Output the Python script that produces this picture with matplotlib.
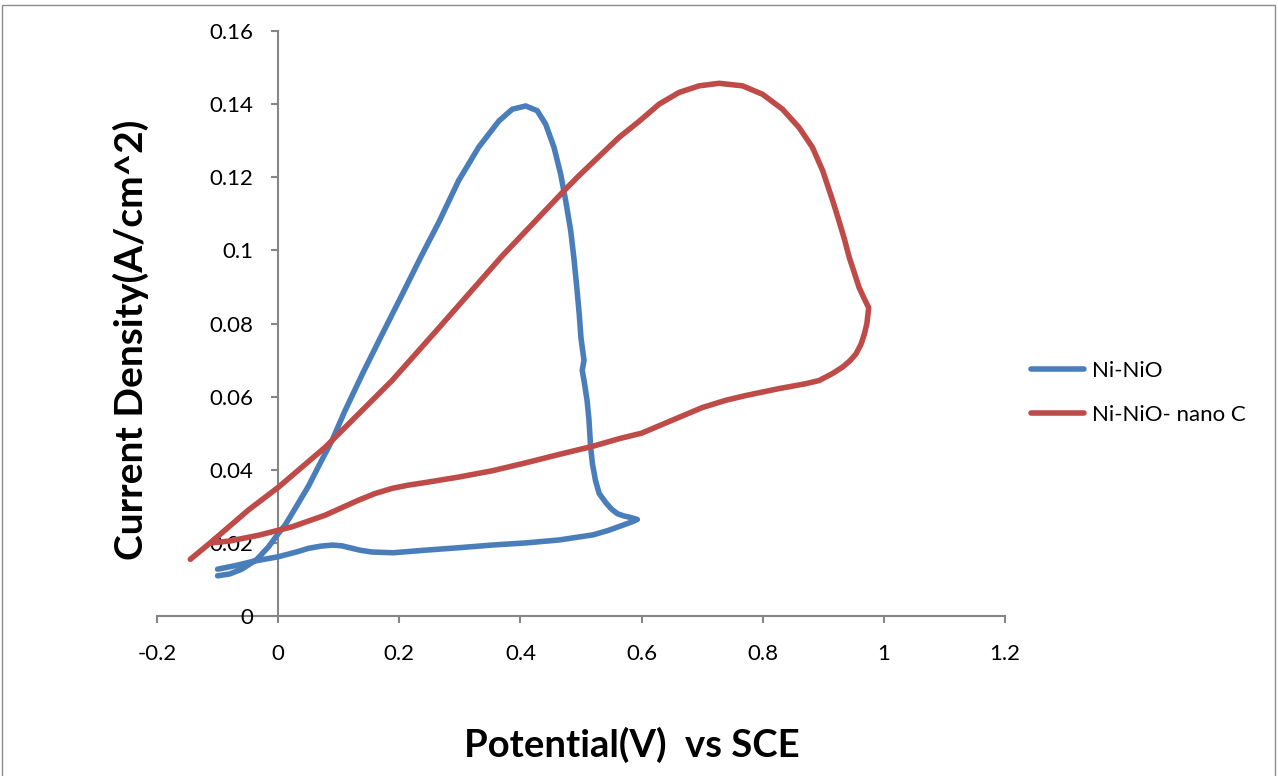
import matplotlib
matplotlib.use("Agg")
import matplotlib.pyplot as plt
from matplotlib.patches import Rectangle

plt.rcParams['font.family'] = ['Lato', 'DejaVu Sans']

# Cyclic voltammogram of Ni-NiO electrode (potential V vs SCE, current density A/cm^2)
ni_nio_potential = [
    -0.100, -0.070, -0.040, 0.000, 0.030, 0.050, 0.070, 0.090, 0.105, 0.120,
    0.135, 0.155, 0.190, 0.243, 0.300, 0.353, 0.410, 0.464, 0.520, 0.545,
    0.565, 0.585, 0.593, 0.583, 0.570, 0.560, 0.550, 0.541, 0.530, 0.524,
    0.519, 0.516, 0.513, 0.510, 0.505, 0.502, 0.505, 0.500, 0.497, 0.493,
    0.4884, 0.483, 0.4747, 0.4664, 0.4554, 0.4417, 0.4278, 0.4086, 0.3865, 0.3645,
    0.331, 0.298, 0.2653, 0.235, 0.205, 0.170, 0.140, 0.110, 0.089, 0.070,
    0.050, 0.023, 0.012, 0.001, -0.016, -0.035, -0.060, -0.080, -0.100,
]
ni_nio_current = [
    0.0128, 0.0138, 0.0150, 0.0162, 0.0175, 0.0185, 0.0191, 0.0194, 0.0192, 0.0186,
    0.0180, 0.0175, 0.0173, 0.0180, 0.0187, 0.0194, 0.0200, 0.0208, 0.0222, 0.0234,
    0.0246, 0.0258, 0.0264, 0.0269, 0.0274, 0.0280, 0.0293, 0.0310, 0.0335, 0.0370,
    0.0415, 0.0460, 0.0540, 0.0590, 0.0644, 0.0672, 0.0699, 0.0760, 0.0827, 0.0900,
    0.0977, 0.1054, 0.1136, 0.1209, 0.1282, 0.1345, 0.1382, 0.1395, 0.1386, 0.1354,
    0.1282, 0.1191, 0.1077, 0.0980, 0.0880, 0.0765, 0.0665, 0.0560, 0.0480, 0.0420,
    0.0355, 0.0280, 0.0250, 0.0227, 0.0189, 0.0155, 0.0128, 0.0115, 0.0110,
]

# Cyclic voltammogram of Ni-NiO with nano carbon
ni_nio_c_potential = [
    -0.145, -0.110, -0.049, 0.001, 0.078, 0.188, 0.260, 0.370, 0.472, 0.497,
    0.5628, 0.5967, 0.629, 0.662, 0.695, 0.728, 0.7666, 0.7997, 0.8327, 0.860,
    0.882, 0.899, 0.9155, 0.926, 0.935, 0.943, 0.951, 0.959, 0.967, 0.975,
    0.972, 0.968, 0.962, 0.954, 0.944, 0.932, 0.915, 0.893, 0.870, 0.827,
    0.772, 0.739, 0.700, 0.650, 0.600, 0.563, 0.519, 0.464, 0.409, 0.353,
    0.298, 0.243, 0.215, 0.188, 0.160, 0.133, 0.078, 0.023, -0.032, -0.080,
    -0.110,
]
ni_nio_c_current = [
    0.0155, 0.0203, 0.0290, 0.0353, 0.0462, 0.0644, 0.0778, 0.0985, 0.1163, 0.1205,
    0.1309, 0.1354, 0.1400, 0.1432, 0.1450, 0.1457, 0.1450, 0.1427, 0.1386, 0.1336,
    0.1282, 0.1218, 0.1136, 0.1080, 0.1030, 0.0980, 0.0940, 0.0899, 0.0870, 0.0843,
    0.0800, 0.0772, 0.0742, 0.0717, 0.0698, 0.0681, 0.0663, 0.0644, 0.0635, 0.0622,
    0.0603, 0.0590, 0.0570, 0.0535, 0.0500, 0.0485, 0.0464, 0.0442, 0.0419, 0.0397,
    0.0380, 0.0365, 0.0358, 0.0349, 0.0335, 0.0317, 0.0276, 0.0244, 0.0221, 0.0205,
    0.0200,
]

series_labels = ["Ni-NiO", "Ni-NiO- nano C"]
series_colors = ["#4A7EBB", "#BE4B48"]

x_ticks = [-0.2, 0, 0.2, 0.4, 0.6, 0.8, 1, 1.2]
x_tick_labels = ["-0.2", "0", "0.2", "0.4", "0.6", "0.8", "1", "1.2"]
y_ticks = [0, 0.02, 0.04, 0.06, 0.08, 0.1, 0.12, 0.14, 0.16]
y_tick_labels = ["0", "0.02", "0.04", "0.06", "0.08", "0.1", "0.12", "0.14", "0.16"]

W, H = 1278, 776
fig = plt.figure(figsize=(W / 100, H / 100), dpi=100)

# chart border
fig.patches.append(Rectangle((2 / W, -0.05), (W - 5) / W, 1.05 - 5 / H,
                             transform=fig.transFigure, fill=False,
                             edgecolor="#8c8c8c", linewidth=1.0))

ax = fig.add_axes([157 / W, (H - 616) / H, 848 / W, 585 / H])
ax.set_xlim(-0.2, 1.2)
ax.set_ylim(0, 0.16)

for xs, ys, lab, col in zip([ni_nio_potential, ni_nio_c_potential],
                            [ni_nio_current, ni_nio_c_current],
                            series_labels, series_colors):
    ax.plot(xs, ys, color=col, lw=4.0, label=lab,
            solid_capstyle="round", solid_joinstyle="round")

axis_gray = "#868686"
for side in ["top", "right"]:
    ax.spines[side].set_visible(False)
ax.spines["left"].set_position(("data", 0))
ax.spines["bottom"].set_position(("data", 0))
for side in ["left", "bottom"]:
    ax.spines[side].set_color(axis_gray)
    ax.spines[side].set_linewidth(1.5)
    ax.spines[side].set_zorder(0.5)

ax.set_xticks(x_ticks)
ax.set_xticklabels(x_tick_labels)
ax.set_yticks(y_ticks)
ax.set_yticklabels(y_tick_labels)
ax.tick_params(axis="both", direction="out", length=5, width=1.5,
               color=axis_gray, labelsize=16, labelcolor="black")
ax.tick_params(axis="y", pad=13)
ax.tick_params(axis="x", pad=15)

fig.text(131 / W, 1 - 340 / H, "Current Density(A/cm^2)", rotation=90,
         ha="center", va="center", fontsize=28, fontweight="bold")
fig.text(632 / W, 1 - 745 / H, "Potential(V)  vs SCE",
         ha="center", va="center", fontsize=27.5, fontweight="bold")

ax.legend(loc="center left", bbox_to_anchor=(1031 / W, 1 - 393 / H),
          bbox_transform=fig.transFigure, frameon=False, fontsize=16,
          handlelength=2.4, handletextpad=0.35, labelspacing=1.1,
          borderpad=0, borderaxespad=0)

fig.savefig("out.png", dpi=100)
